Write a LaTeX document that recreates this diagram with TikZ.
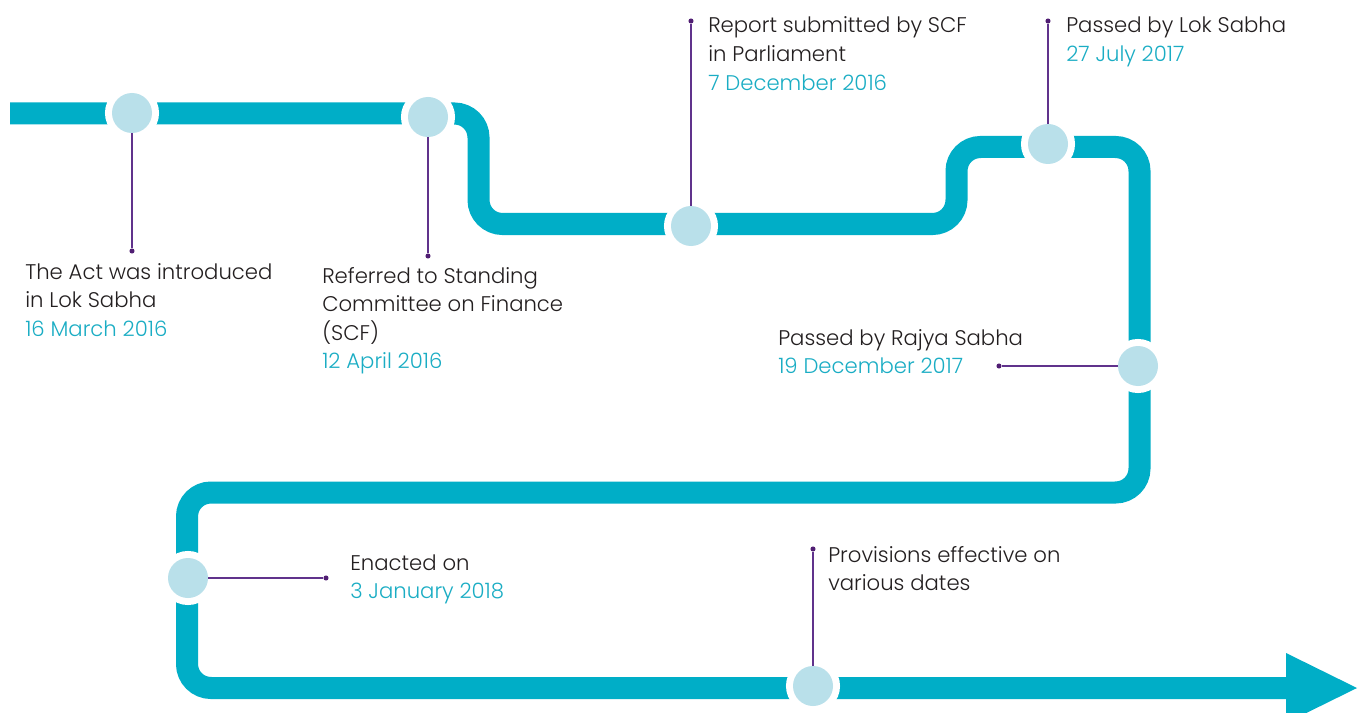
\documentclass[tikz,border=0pt]{standalone}
\usepackage{fontspec}
\setmainfont{Poppins}[UprightFont={* Light}]
\definecolor{track}{RGB}{0,174,199}
\definecolor{ball}{RGB}{185,224,234}
\definecolor{lila}{RGB}{96,50,140}
\definecolor{dotc}{RGB}{80,30,115}
\definecolor{datec}{RGB}{26,173,196}
\definecolor{ink}{RGB}{35,31,32}
\tikzset{
  trackline/.style={draw=track, line width=16.5pt, rounded corners=18pt, line cap=butt},
  trackhead/.style={fill=track, draw=none},
  mile/.style={circle, fill=ball, minimum size=30pt, inner sep=0pt, outer sep=0pt,
    preaction={draw=white, line width=10.5pt}},
  pin/.style={circle, fill=dotc, minimum size=3.8pt, inner sep=0pt, outer sep=0pt},
  link/.style={draw=lila, line width=1.2pt},
  label/.style={anchor=base west, inner sep=0pt, text=ink,
    font=\fontsize{15.9pt}{21.4pt}\selectfont},
}
\newcommand{\dte}[1]{\textcolor{datec}{#1}}
\begin{document}
\begin{tikzpicture}[x=0.75pt,y=-0.75pt]
\useasboundingbox (0,0) rectangle (1360,713);
\clip (0,0) rectangle (1360,713);
\fill[white] (0,0) rectangle (1360,713);

% track
\draw[trackline] (10,113.5) -- (478.5,113.5) -- (478.5,224) -- (956.5,224) -- (956.5,147)
  -- (1139.5,147) -- (1139.5,492.5) -- (187,492.5) -- (187,688) -- (1290,688);
\path[trackhead] (1286,653) -- (1357,688) -- (1286,723) -- cycle;

% milestones
\node[mile] (c1) at (132,113) {};
\node[mile] (c2) at (428,117) {};
\node[mile] (c3) at (691,226) {};
\node[mile] (c4) at (1048,144) {};
\node[mile] (c5) at (1138,366) {};
\node[mile] (c6) at (188,578) {};
\node[mile] (c7) at (813,686) {};

% pins
\node[pin] (d1) at (132,251) {};
\node[pin] (d2) at (428,256) {};
\node[pin] (d3) at (691,21) {};
\node[pin] (d4) at (1048,21) {};
\node[pin] (d5) at (999,366) {};
\node[pin] (d6) at (326,578) {};
\node[pin] (d7) at (813,549) {};

% links
\draw[link] (c1) -- (d1);
\draw[link] (c2) -- (d2);
\draw[link] (d3) -- (c3);
\draw[link] (d4) -- (c4);
\draw[link] (c5) -- (d5);
\draw[link] (c6) -- (d6);
\draw[link] (d7) -- (c7);

% labels
\node[label] (t1) at (25,279) {\begin{tabular}[t]{@{}l@{}}The Act was introduced\\ in Lok Sabha\\ \dte{16 March 2016}\end{tabular}};
\node[label] (t2) at (322,283) {\begin{tabular}[t]{@{}l@{}}Referred to Standing\\ Committee on Finance\\ (SCF)\\ \dte{12 April 2016}\end{tabular}};
\node[label] (t3) at (708,33) {\begin{tabular}[t]{@{}l@{}}Report submitted by SCF\\ in Parliament\\ \dte{7 December 2016}\end{tabular}};
\node[label] (t4) at (1066,33) {\begin{tabular}[t]{@{}l@{}}Passed by Lok Sabha\\ \dte{27 July 2017}\end{tabular}};
\node[label] (t5) at (778,345) {\begin{tabular}[t]{@{}l@{}}Passed by Rajya Sabha\\ \dte{19 December 2017}\end{tabular}};
\node[label] (t6) at (350,570) {\begin{tabular}[t]{@{}l@{}}Enacted on\\ \dte{3 January 2018}\end{tabular}};
\node[label] (t7) at (828,562) {\begin{tabular}[t]{@{}l@{}}Provisions effective on\\ various dates\end{tabular}};
\end{tikzpicture}
\end{document}
